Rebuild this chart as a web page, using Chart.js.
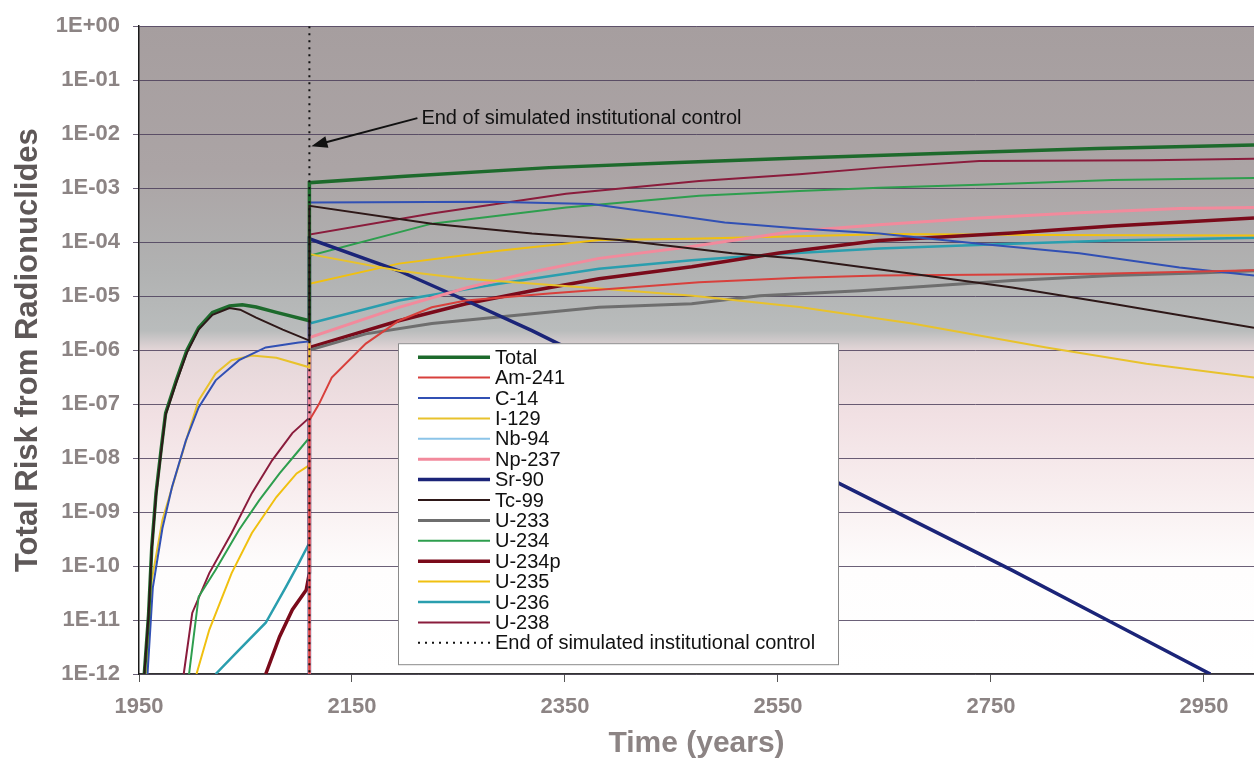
<!DOCTYPE html>
<html lang="en">
<head>
<meta charset="UTF-8" />
<title>Total Risk from Radionuclides</title>
<script src="https://cdn.jsdelivr.net/npm/chart.js"></script>
<style>
  body { margin: 0; background: #fff; }
  #wrap { width: 1254px; height: 759px; }
</style>
</head>
<body>
<div id="wrap"><canvas id="riskChart" width="1254" height="759"></canvas></div>
<script>
// ---- data (year, risk) ----
const END_IC = 2110; // end of simulated institutional control

const totalYears = [1955, 1959, 1962, 1966, 1971, 1975, 1985, 1995, 2006, 2019, 2035, 2047, 2060, 2079, 2110, 2110, 2200, 2335, 2450, 2570, 2700, 2850, 2997];
const totalRisk  = [1.0e-12, 1.26e-11, 2.24e-10, 2.24e-9, 1.58e-8, 6.8e-8, 2.75e-7, 1.0e-6, 2.6e-6, 5.0e-6, 6.6e-6, 6.9e-6, 6.3e-6, 5.0e-6, 3.5e-6, 1.26e-3, 1.66e-3, 2.4e-3, 2.95e-3, 3.6e-3, 4.4e-3, 5.4e-3, 6.3e-3];

const am241Years = [2110, 2110, 2119, 2131, 2163, 2194, 2225, 2257, 2335, 2476, 2570, 2645, 2852, 2997];
const am241Risk  = [1e-13, 5.0e-8, 1.0e-7, 3.1e-7, 1.32e-6, 3.5e-6, 6.2e-6, 8.3e-6, 1.12e-5, 1.8e-5, 2.2e-5, 2.4e-5, 2.6e-5, 3.0e-5];

const c14Years = [1958, 1963, 1972, 1981, 1994, 2006, 2022, 2044, 2069, 2100, 2110, 2110, 2280, 2375, 2440, 2500, 2570, 2645, 2739, 2833, 2927, 2997];
const c14Risk  = [1.0e-12, 4.0e-11, 5.0e-10, 2.9e-9, 2.1e-8, 8.7e-8, 2.75e-7, 6.5e-7, 1.12e-6, 1.38e-6, 1.45e-6, 5.4e-4, 5.6e-4, 5.1e-4, 3.4e-4, 2.3e-4, 1.78e-4, 1.45e-4, 9.3e-5, 6.2e-5, 3.4e-5, 2.4e-5];

const i129Years = [1957.5, 1962, 1972, 1985, 1997, 2006, 2022, 2037, 2056, 2079, 2110, 2110, 2194, 2257, 2382, 2470, 2570, 2676, 2802, 2896, 2997];
const i129Risk  = [1.0e-12, 5.5e-11, 7.1e-10, 5.2e-9, 3.2e-8, 1.17e-7, 3.7e-7, 6.5e-7, 7.9e-7, 7.2e-7, 4.8e-7, 6.0e-5, 2.95e-5, 2.1e-5, 1.38e-5, 1.02e-5, 6.3e-6, 3.1e-6, 1.12e-6, 5.6e-7, 3.1e-7];

const nb94Years = [];
const nb94Risk  = [];

const np237Years = [2110, 2110, 2194, 2257, 2319, 2382, 2469, 2564, 2645, 2739, 2833, 2927, 2997];
const np237Risk  = [1e-13, 1.7e-6, 6.2e-6, 1.41e-5, 2.8e-5, 5.0e-5, 8.3e-5, 1.58e-4, 2.1e-4, 2.8e-4, 3.5e-4, 4.2e-4, 4.4e-4];

const sr90Years = [2110, 2110, 2194, 2257, 2319, 2338, 2606, 2770, 2864, 2956];
const sr90Risk  = [1e-13, 1.15e-4, 2.95e-5, 8.3e-6, 2.3e-6, 1.5e-6, 3.5e-9, 8.3e-11, 8.9e-12, 1.0e-12];

const tc99Years = [1955, 1959, 1962, 1966, 1971, 1975, 1985, 1995, 2006, 2019, 2035, 2045, 2060, 2085, 2110, 2110, 2225, 2319, 2401, 2507, 2570, 2676, 2770, 2864, 2997];
const tc99Risk  = [1.0e-12, 1.26e-11, 2.0e-10, 2.0e-9, 1.4e-8, 6.3e-8, 2.5e-7, 8.9e-7, 2.4e-6, 4.5e-6, 6.0e-6, 5.6e-6, 4.0e-6, 2.4e-6, 1.5e-6, 4.7e-4, 2.2e-4, 1.45e-4, 1.1e-4, 6.2e-5, 4.9e-5, 2.6e-5, 1.45e-5, 7.2e-6, 2.6e-6];

const u233Years = [2110, 2110, 2163, 2225, 2382, 2469, 2533, 2627, 2770, 2864, 2950, 2997];
const u233Risk  = [1e-13, 1.0e-6, 2.0e-6, 3.1e-6, 6.2e-6, 7.2e-6, 1.02e-5, 1.26e-5, 1.95e-5, 2.4e-5, 2.7e-5, 2.95e-5];

const u234Years = [1997, 2006, 2022, 2044, 2063, 2082, 2100, 2110, 2110, 2225, 2351, 2476, 2570, 2645, 2739, 2864, 2997];
const u234Risk  = [1.0e-12, 2.7e-11, 8.5e-11, 4.7e-10, 1.66e-9, 5.2e-9, 1.38e-8, 2.4e-8, 5.6e-5, 2.2e-4, 4.4e-4, 7.2e-4, 8.9e-4, 1.02e-3, 1.15e-3, 1.41e-3, 1.55e-3];

const u234pYears = [2069, 2082, 2094, 2107, 2110, 2110, 2194, 2257, 2319, 2382, 2469, 2551, 2645, 2770, 2864, 2997];
const u234pRisk  = [1.0e-12, 4.9e-12, 1.55e-11, 3.6e-11, 7.4e-11, 1.12e-6, 3.5e-6, 7.2e-6, 1.26e-5, 2.1e-5, 3.5e-5, 6.3e-5, 1.07e-4, 1.48e-4, 2.0e-4, 2.8e-4];

const u235Years = [2004, 2016, 2037, 2056, 2079, 2098, 2110, 2110, 2194, 2288, 2382, 2469, 2657, 2800, 2997];
const u235Risk  = [1.0e-12, 6.6e-12, 7.4e-11, 4.1e-10, 1.9e-9, 5.2e-9, 7.4e-9, 1.7e-5, 4.0e-5, 6.9e-5, 1.1e-4, 1.15e-4, 1.41e-4, 1.35e-4, 1.32e-4];

const u236Years = [2022, 2044, 2069, 2088, 2100, 2110, 2110, 2194, 2288, 2382, 2469, 2551, 2645, 2770, 2864, 2997];
const u236Risk  = [1.0e-12, 2.8e-12, 8.9e-12, 4.1e-11, 1.12e-10, 2.7e-10, 3.1e-6, 8.3e-6, 1.7e-5, 3.2e-5, 4.6e-5, 6.0e-5, 7.6e-5, 9.3e-5, 1.07e-4, 1.2e-4];

const u238Years = [1992, 2000, 2016, 2037, 2056, 2075, 2094, 2110, 2110, 2225, 2351, 2476, 2570, 2645, 2739, 2900, 2997];
const u238Risk  = [1.0e-12, 1.35e-11, 7.4e-11, 4.1e-10, 2.24e-9, 9.1e-9, 2.9e-8, 5.6e-8, 1.38e-4, 3.4e-4, 7.9e-4, 1.35e-3, 1.8e-3, 2.4e-3, 3.2e-3, 3.3e-3, 3.5e-3];

const icYears = [END_IC, END_IC];
const icRisk  = [1, 1e-12];

const xTicks = [1950, 2150, 2350, 2550, 2750, 2950];
const xTickLabels = ['1950', '2150', '2350', '2550', '2750', '2950'];
const yTicks = [1, 1e-1, 1e-2, 1e-3, 1e-4, 1e-5, 1e-6, 1e-7, 1e-8, 1e-9, 1e-10, 1e-11, 1e-12];
const yTickLabels = ['1E+00', '1E-01', '1E-02', '1E-03', '1E-04', '1E-05', '1E-06', '1E-07', '1E-08', '1E-09', '1E-10', '1E-11', '1E-12'];

function pts(xs, ys) {
  return xs.map((x, i) => ({ x: x, y: ys[i] }));
}

function series(label, xs, ys, color, width, dash, order) {
  return {
    label: label,
    data: pts(xs, ys),
    borderColor: color,
    backgroundColor: color,
    borderWidth: width,
    borderDash: dash || [],
    order: order || 0,
    pointRadius: 0,
    tension: 0,
    fill: false
  };
}

const datasets = [
  series('Total', totalYears, totalRisk, '#1d6a2c', 3.5),
  series('Am-241', am241Years, am241Risk, '#d8403c', 2),
  series('C-14', c14Years, c14Risk, '#3150b4', 2),
  series('I-129', i129Years, i129Risk, '#e8c22c', 2),
  series('Nb-94', nb94Years, nb94Risk, '#8cc4e8', 2),
  series('Np-237', np237Years, np237Risk, '#f28a9c', 3),
  series('Sr-90', sr90Years, sr90Risk, '#1b2478', 3.5),
  series('Tc-99', tc99Years, tc99Risk, '#2e1818', 2, null, -1),
  series('U-233', u233Years, u233Risk, '#6e6e6e', 3),
  series('U-234', u234Years, u234Risk, '#2e9e4e', 2),
  series('U-234p', u234pYears, u234pRisk, '#7a0a1a', 3.5),
  series('U-235', u235Years, u235Risk, '#f0c010', 2),
  series('U-236', u236Years, u236Risk, '#2a9eae', 2.5),
  series('U-238', u238Years, u238Risk, '#8a1c3c', 2),
  series('End of simulated institutional control', icYears, icRisk, '#111111', 2, [2, 5], -2)
];

// gradient behind the plot area, like the scanned original
const plotBackground = {
  id: 'plotBackground',
  beforeDraw(chart) {
    const { ctx, chartArea: a } = chart;
    ctx.save();
    ctx.fillStyle = '#ffffff';
    ctx.fillRect(0, 0, chart.width, chart.height);
    const g = ctx.createLinearGradient(0, a.top, 0, a.bottom);
    g.addColorStop(0.00, '#a69e9f');
    g.addColorStop(0.22, '#aba4a5');
    g.addColorStop(0.38, '#b1b2b2');
    g.addColorStop(0.47, '#b9bcbc');
    g.addColorStop(0.50, '#e4d6d8');
    g.addColorStop(0.60, '#f1e0e3');
    g.addColorStop(0.72, '#f8eeef');
    g.addColorStop(0.84, '#fefdfd');
    g.addColorStop(1.00, '#ffffff');
    ctx.fillStyle = g;
    ctx.fillRect(a.left, a.top, a.right - a.left, a.bottom - a.top);
    ctx.restore();
  }
};

// arrow note + legend box drawn inside the plot
const overlay = {
  id: 'overlay',
  afterDatasetsDraw(chart) {
    const { ctx, chartArea: a, scales } = chart;
    ctx.save();

    // arrow pointing at the dotted line
    const hx = scales.x.getPixelForValue(END_IC) + 2;
    const hy = scales.y.getPixelForValue(6e-3);
    const tx = hx + 106, ty = hy - 28;
    ctx.strokeStyle = '#111';
    ctx.fillStyle = '#111';
    ctx.lineWidth = 2;
    ctx.beginPath();
    ctx.moveTo(tx, ty);
    ctx.lineTo(hx + 10, hy - 2.6);
    ctx.stroke();
    const ang = Math.atan2(hy - ty, hx - tx);
    ctx.beginPath();
    ctx.moveTo(hx, hy);
    ctx.lineTo(hx - 16 * Math.cos(ang) + 6 * Math.sin(ang), hy - 16 * Math.sin(ang) - 6 * Math.cos(ang));
    ctx.lineTo(hx - 16 * Math.cos(ang) - 6 * Math.sin(ang), hy - 16 * Math.sin(ang) + 6 * Math.cos(ang));
    ctx.closePath();
    ctx.fill();
    ctx.font = '20px "Liberation Sans", Arial, sans-serif';
    ctx.textBaseline = 'middle';
    ctx.textAlign = 'left';
    ctx.fillText('End of simulated institutional control', tx + 4, ty);

    // legend
    const bx = a.left + 259, by = a.top + 317, bw = 440, bh = 321;
    ctx.fillStyle = '#ffffff';
    ctx.fillRect(bx, by, bw, bh);
    ctx.strokeStyle = '#8a8a8a';
    ctx.lineWidth = 1;
    ctx.strokeRect(bx + 0.5, by + 0.5, bw, bh);
    ctx.font = '20px "Liberation Sans", Arial, sans-serif';
    chart.data.datasets.forEach((ds, i) => {
      const y = by + 14 + i * 20.4;
      ctx.strokeStyle = ds.borderColor;
      ctx.lineWidth = ds.borderWidth;
      ctx.setLineDash(ds.borderDash);
      ctx.beginPath();
      ctx.moveTo(bx + 20, y);
      ctx.lineTo(bx + 92, y);
      ctx.stroke();
      ctx.setLineDash([]);
      ctx.fillStyle = '#111';
      ctx.fillText(ds.label, bx + 97, y + 1);
    });
    ctx.restore();
  }
};

const tickFont = { family: '"Liberation Sans", Arial, sans-serif', size: 22, weight: 'bold' };

new Chart(document.getElementById('riskChart'), {
  type: 'line',
  data: { datasets: datasets },
  options: {
    responsive: false,
    animation: false,
    layout: { padding: { top: 25, right: 0, bottom: 0, left: 0 } },
    plugins: {
      legend: { display: false },
      tooltip: { enabled: false }
    },
    scales: {
      x: {
        type: 'linear',
        min: 1950,
        max: 2997,
        afterBuildTicks: s => { s.ticks = xTicks.map(v => ({ value: v })); },
        afterFit: s => { s.height = 85; },
        grid: { drawOnChartArea: false, drawTicks: true, tickLength: 8, color: '#555' },
        border: { color: '#333', width: 1.5 },
        ticks: {
          autoSkip: false,
          maxRotation: 0,
          padding: 12,
          color: '#8c8484',
          font: tickFont,
          callback: (v, i) => xTickLabels[i]
        },
        title: {
          display: true,
          text: 'Time (years)',
          color: '#8c8484',
          font: { family: '"Liberation Sans", Arial, sans-serif', size: 30, weight: 'bold', lineHeight: 1 },
          padding: { top: 0, bottom: 0 }
        }
      },
      y: {
        type: 'logarithmic',
        min: 1e-12,
        max: 1,
        afterBuildTicks: s => { s.ticks = yTicks.map(v => ({ value: v })); },
        afterFit: s => { s.width = 139; },
        grid: { color: 'rgba(70,56,86,0.8)', lineWidth: 1, tickLength: 6 },
        border: { color: '#1a1a1a', width: 1.5 },
        ticks: {
          autoSkip: false,
          padding: 13,
          color: '#8c8484',
          font: tickFont,
          callback: (v, i) => yTickLabels[i]
        },
        title: {
          display: true,
          text: 'Total Risk from Radionuclides',
          color: '#5e5858',
          font: { family: '"Liberation Sans", Arial, sans-serif', size: 31, weight: 'bold', lineHeight: 1.2 },
          padding: { top: 10, bottom: 0 }
        }
      }
    }
  },
  plugins: [plotBackground, overlay]
});
</script>
</body>
</html>
